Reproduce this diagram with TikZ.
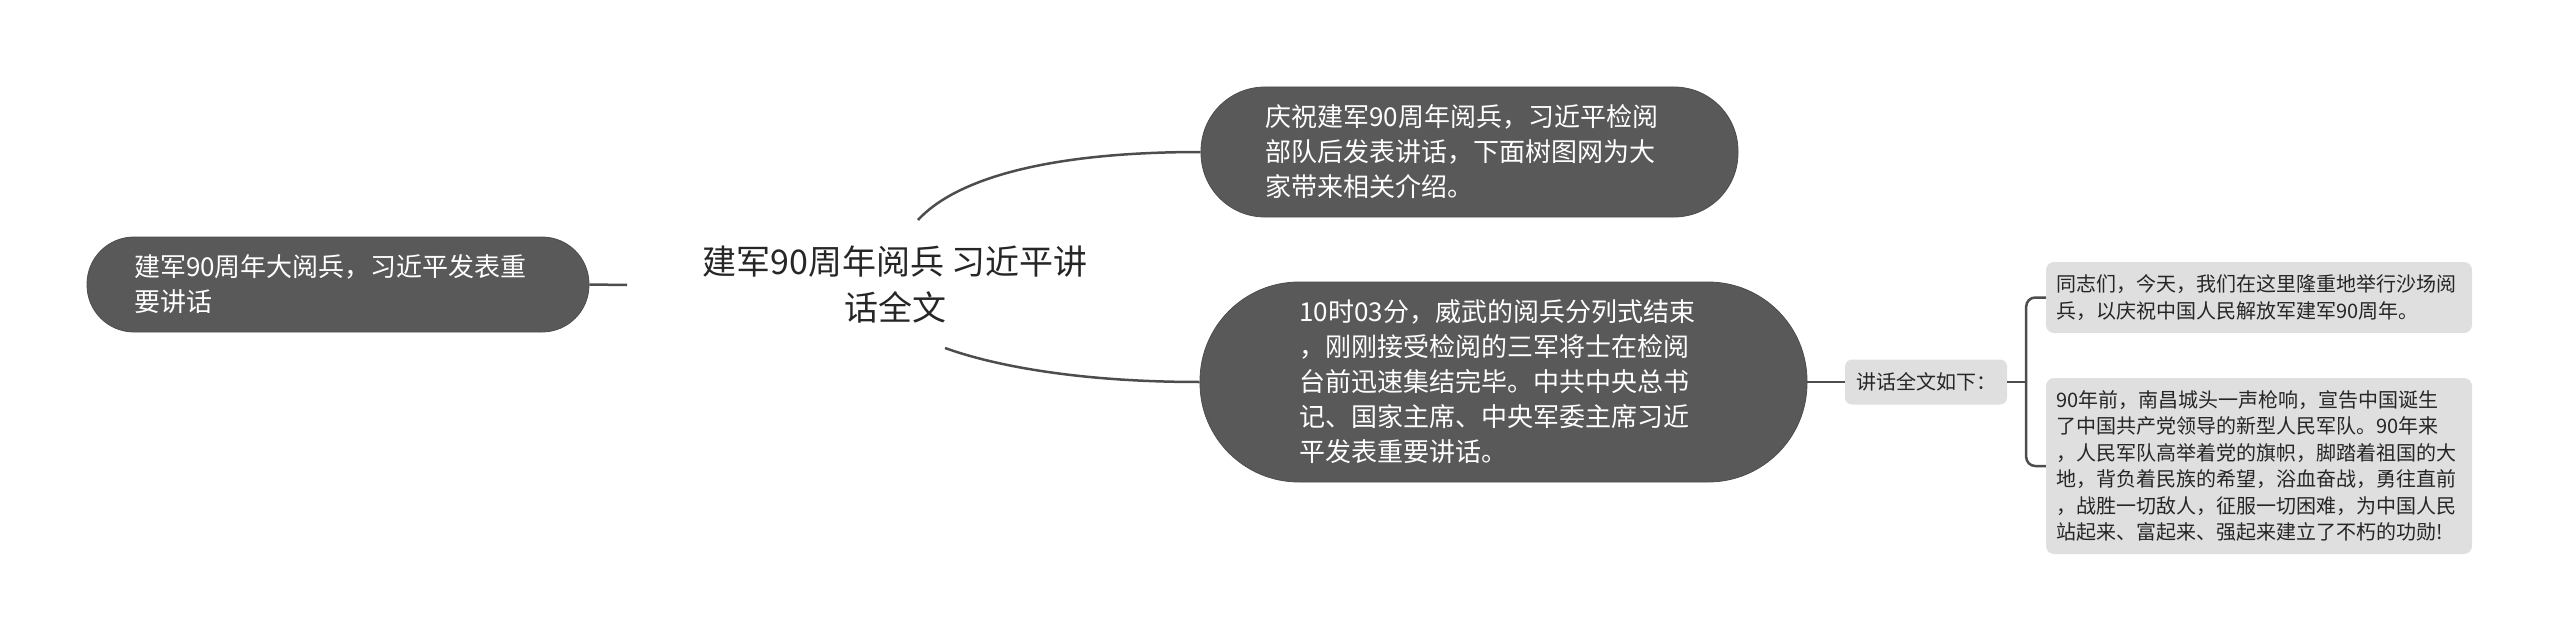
\documentclass[tikz,border=0pt]{standalone}
\usepackage{fontspec}
\setmainfont{Noto Sans CJK SC}
\definecolor{nodegray}{HTML}{595959}
\definecolor{linegray}{HTML}{4D4D4D}
\definecolor{leafgray}{HTML}{DFDFDF}
\definecolor{textgray}{HTML}{262626}
\tikzset{
  darkbox/.style={draw=linegray, line width=0.8pt, fill=nodegray, text=white, align=left,
    text width=408pt, inner xsep=0pt, inner ysep=0pt, font=\fontsize{26}{35}\selectfont},
  leafbox/.style={fill=leafgray, text=textgray, align=left, text width=406pt, inner xsep=10pt,
    inner ysep=0pt, rounded corners=8pt, font=\fontsize{20}{26.5}\selectfont},
  keybox/.style={fill=leafgray, text=textgray, minimum width=162pt, minimum height=45pt,
    inner sep=0pt, rounded corners=7pt, font=\fontsize{20}{24}\selectfont},
  roottext/.style={text=textgray, align=center, font=\fontsize{34}{46}\selectfont},
  conn/.style={draw=linegray, line width=2.5pt},
  leafconn/.style={draw=linegray, line width=2.5pt}
}
\begin{document}
\begin{tikzpicture}[x=1pt, y=-1pt]
  \useasboundingbox (0,0) rectangle (2560,642);

  \node[roottext] (root) at (895,285) {建军90周年阅兵 习近平讲\\话全文};
  \node[darkbox, minimum width=502pt, minimum height=95pt, rounded corners=47pt] (intro) at (338,284.5)
    {建军90周年大阅兵，习近平发表重\\要讲话};
  \node[darkbox, minimum width=537pt, minimum height=130pt, rounded corners=64pt] (summary) at (1469.5,152)
    {庆祝建军90周年阅兵，习近平检阅\\部队后发表讲话，下面树图网为大\\家带来相关介绍。};
  \node[darkbox, minimum width=607pt, minimum height=200pt, rounded corners=99pt] (review) at (1503.5,382)
    {10时03分，威武的阅兵分列式结束\\，刚刚接受检阅的三军将士在检阅\\台前迅速集结完毕。中共中央总书\\记、国家主席、中央军委主席习近\\平发表重要讲话。};
  \node[keybox] (speech) at (1926,382) {讲话全文如下：};
  \node[leafbox, minimum height=71pt] (para1) at (2259,297.5)
    {同志们，今天，我们在这里隆重地举行沙场阅\\兵，以庆祝中国人民解放军建军90周年。};
  \node[leafbox, minimum height=176pt] (para2) at (2259,466)
    {90年前，南昌城头一声枪响，宣告中国诞生\\了中国共产党领导的新型人民军队。90年来\\，人民军队高举着党的旗帜，脚踏着祖国的大\\地，背负着民族的希望，浴血奋战，勇往直前\\，战胜一切敌人，征服一切困难，为中国人民\\站起来、富起来、强起来建立了不朽的功勋!};

  \coordinate (rootw) at (627,285);
  \coordinate (rootn) at (918,220);
  \coordinate (roots) at (945,348);

  \draw[conn] (intro.east) -- (rootw);
  \draw[conn] (rootn) .. controls (950,185) and (1030,152) .. (summary.west);
  \draw[conn] (roots) .. controls (995,366) and (1080,382) .. (review.west);
  \draw[conn] (review.east) -- (speech.west);
  \draw[leafconn] (speech.east) -- ++(19,0) coordinate (fork);
  \draw[leafconn, rounded corners=9pt] (fork) |- (para1.west);
  \draw[leafconn, rounded corners=9pt] (fork) |- (para2.west);
\end{tikzpicture}
\end{document}
